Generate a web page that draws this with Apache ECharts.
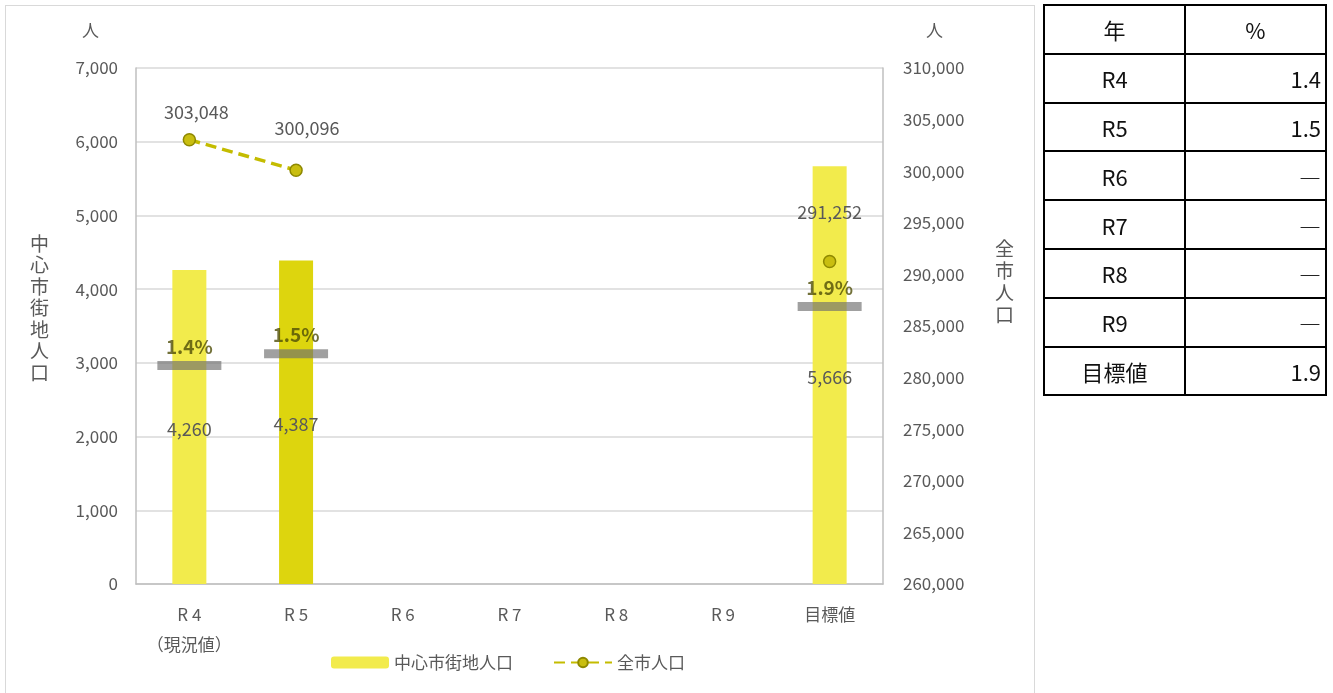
<!DOCTYPE html>
<html>
<head>
<meta charset="utf-8">
<script src="https://cdn.jsdelivr.net/npm/echarts@6/dist/echarts.min.js"></script>
<style>
  html, body { margin: 0; padding: 0; background: #fff; }
  #frame {
    position: absolute; left: 5px; top: 5px; width: 1030px; height: 690px;
    border: 1px solid #d9d9d9; box-sizing: border-box;
  }
  #chart { position: absolute; left: 0; top: 0; width: 1333px; height: 693px; }
  #tbl {
    position: absolute; left: 1043px; top: 4px;
    border-collapse: collapse;
    font-family: "Noto Sans CJK JP", sans-serif; font-size: 22px; color: #111;
  }
  #tbl tr { height: 48.8px; }
  #tbl td { border: 2px solid #000; padding: 0 4px; }
  #tbl td.c1 { width: 131px; text-align: center; }
  #tbl td.c2 { width: 131px; text-align: right; }
  #tbl td.h { text-align: center; }
</style>
</head>
<body>
<div id="frame"></div>
<div id="chart"></div>
<table id="tbl"></table>
<script>
// カテゴリ
const categories = ["R 4\n（現況値）", "R 5", "R 6", "R 7", "R 8", "R 9", "目標値"];
// 中心市街地人口（左軸）
const centerPop = [4260, 4387, null, null, null, null, 5666];
// 全市人口（右軸）
const cityPop = [303048, 300096, null, null, null, null, 291252];
// 割合 %
const ratio = [1.4, 1.5, null, null, null, null, 1.9];
// 表
const tableYears = ["R4", "R5", "R6", "R7", "R8", "R9", "目標値"];
const tableValues = ["1.4", "1.5", "―", "―", "―", "―", "1.9"];

// 表を作る
let html = '<tr><td class="c1 h">年</td><td class="c2 h">%</td></tr>';
tableYears.forEach((y, i) => {
  html += '<tr><td class="c1">' + y + '</td><td class="c2">' + tableValues[i] + '</td></tr>';
});
document.getElementById("tbl").innerHTML = html;

const font = '"Noto Sans CJK JP", sans-serif';
const txt = "#595959";
const barLight = "#F2EB4C";
const barDark = "#DDD50E";
const lineColor = "#C4BC00";

const myChart = echarts.init(document.getElementById("chart"));
const option = {
  backgroundColor: "transparent",
  textStyle: { fontFamily: font },
  animation: false,
  grid: { left: 136, right: 450, top: 68, bottom: 109 },
  legend: {
    data: ["中心市街地人口", "全市人口"],
    left: 326,
    top: 649,
    itemGap: 40,
    itemWidth: 58,
    itemHeight: 12,
    textStyle: { fontSize: 17, color: txt, fontFamily: font }
  },
  graphic: [
    { type: "text", left: 82, top: 22, style: { text: "人", fontSize: 17, fill: txt, fontFamily: font } },
    { type: "text", left: 926, top: 22, style: { text: "人", fontSize: 17, fill: txt, fontFamily: font } },
    {
      type: "text", left: 30, top: 233,
      style: { text: "中心市街地人口".split("").join("\n"), fontSize: 19, lineHeight: 21.5, fill: txt, fontFamily: font }
    },
    {
      type: "text", left: 995, top: 238,
      style: { text: "全市人口".split("").join("\n"), fontSize: 19, lineHeight: 22, fill: txt, fontFamily: font }
    }
  ],
  xAxis: {
    type: "category",
    data: categories,
    axisLine: { lineStyle: { color: "#bfbfbf", width: 1.5 } },
    axisTick: { show: false },
    axisLabel: { interval: 0, color: txt, fontSize: 17, margin: 16, lineHeight: 30, fontFamily: font }
  },
  yAxis: [
    {
      type: "value", min: 0, max: 7000, interval: 1000,
      axisLine: { show: true, lineStyle: { color: "#bfbfbf", width: 1.5 } },
      splitLine: { lineStyle: { color: "#d9d9d9", width: 1.5 } },
      axisLabel: {
        color: txt, fontSize: 17, margin: 18, fontFamily: font,
        formatter: (v) => v.toLocaleString("en-US")
      }
    },
    {
      type: "value", min: 260000, max: 310000, interval: 5000,
      position: "right",
      axisLine: { show: true, lineStyle: { color: "#bfbfbf", width: 1.5 } },
      splitLine: { show: false },
      axisLabel: {
        color: txt, fontSize: 17, margin: 20, fontFamily: font,
        formatter: (v) => v.toLocaleString("en-US")
      }
    },
    {
      // 割合用の隠し軸
      type: "value", min: -0.45, max: 3.92, show: false,
      splitLine: { show: false }
    }
  ],
  series: [
    {
      name: "中心市街地人口",
      type: "bar",
      barWidth: 34,
      itemStyle: { color: barLight },
      data: centerPop.map((v, i) => (i === 1 ? { value: v, itemStyle: { color: barDark } } : v)),
      label: {
        show: true, position: "inside", offset: [0, 2], color: txt, fontSize: 18, fontFamily: font,
        formatter: (p) => p.value.toLocaleString("en-US")
      },
      z: 2
    },
    {
      name: "割合",
      type: "scatter",
      yAxisIndex: 2,
      symbol: "rect",
      symbolSize: [64, 9],
      itemStyle: { color: "rgba(110,110,110,0.82)" },
      data: ratio,
      label: {
        show: true, position: "top", distance: 5,
        color: "#4f4e08", fontSize: 19, fontWeight: "bold", fontFamily: font,
        formatter: (p) => p.value + "%"
      },
      z: 3
    },
    {
      name: "全市人口",
      type: "line",
      yAxisIndex: 1,
      connectNulls: false,
      symbol: "circle",
      symbolSize: 12,
      lineStyle: { color: lineColor, width: 3.5, type: [11, 6] },
      itemStyle: { color: "#C9BE10", borderColor: "#8E8800", borderWidth: 1.5 },
      data: cityPop.map((v, i) => {
        if (v === null) return null;
        const dist = i === 0 ? 12 : i === 1 ? 26 : 34;
        const off = i === 0 ? [7, 0] : i === 1 ? [11, 0] : [0, 0];
        return { value: v, label: { distance: dist, offset: off } };
      }),
      label: {
        show: true, position: "top", color: txt, fontSize: 18, fontFamily: font,
        formatter: (p) => p.value.toLocaleString("en-US")
      },
      z: 4
    }
  ]
};
myChart.setOption(option);
</script>
</body>
</html>
